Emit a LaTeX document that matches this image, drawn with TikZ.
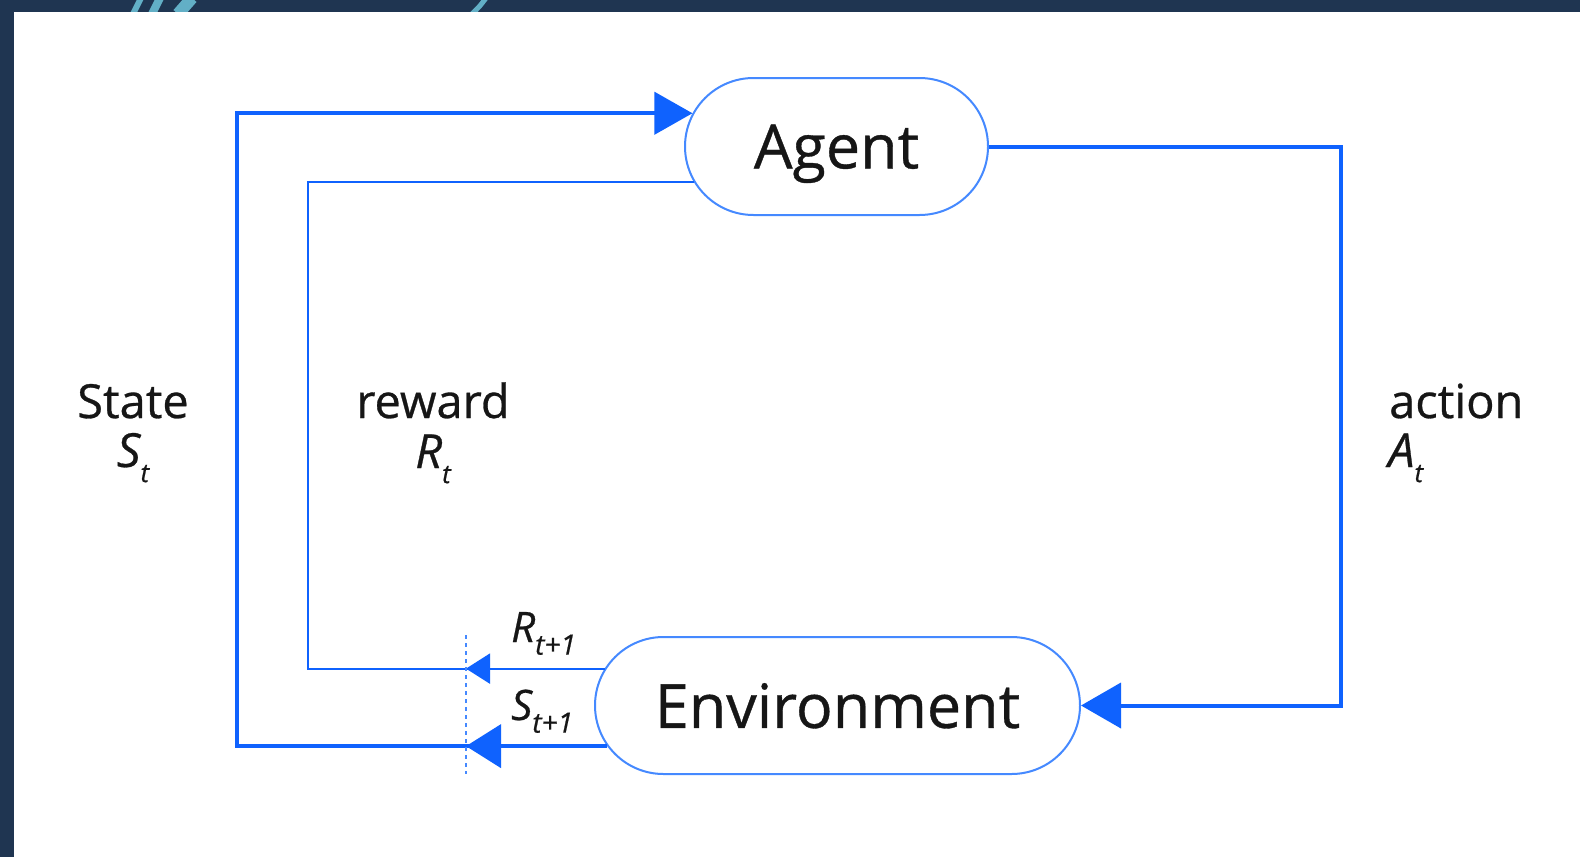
\documentclass[tikz,border=0pt]{standalone}
\usepackage{fontspec}
\setmainfont{Open Sans}[FakeBold=0.6]
\usetikzlibrary{shapes,shapes.misc,arrows.meta}
\definecolor{ibmblue}{HTML}{0F62FE}
\definecolor{boxblue}{HTML}{4589FF}
\definecolor{inkgray}{HTML}{161616}
\definecolor{navy}{HTML}{1F3551}
\definecolor{glow}{HTML}{62AFC6}

\begin{document}
\begin{tikzpicture}[x=1pt, y=-1pt,
      every node/.append style={text=inkgray, inner sep=0pt},
      box/.style={rounded rectangle, draw=boxblue, line width=2pt, fill=white,
        minimum height=137pt, text depth=0pt, font=\fontsize{61}{70}\selectfont}]
    \tikzstyle{mainline} = [draw=ibmblue, line width=4pt]
    \tikzstyle{thinline} = [draw=ibmblue, line width=2pt]
    \tikzstyle{sidetext} = [anchor=base, font=\fontsize{47}{56}\selectfont]
    \tikzstyle{steptext} = [anchor=base west, font=\fontsize{42}{50}\selectfont\itshape]
    % backdrop
    \fill[navy] (0,0) rectangle (1580,857);
    \begin{scope}
      \clip (0,0) rectangle (1580,12);
      \draw[glow, line width=6pt] (133,14) -- (141,-2);
      \draw[glow, line width=8pt] (152,14) -- (160,-2);
      \draw[glow, line width=12pt] (178,14) -- (192,-2);
      \draw[glow, line width=5pt] (472,14) .. controls (480,6) .. (486,-2);
    \end{scope}
    \fill[white] (14,12) rectangle (1580,857);
    % the two boxes
    \node (agent) [box, minimum width=303pt] at (836.5,146.5) {Agent};
    \node (environment) [box, minimum width=485pt] at (837.5,705.5) {Environment};
    \coordinate (dash_top) at (466,635);
    \coordinate (dash_bottom) at (466,774);
    \coordinate (state_x) at (237,0);
    \coordinate (reward_x) at (308,0);
    \coordinate (action_x) at (1341,0);
    % state loop
    \draw[mainline, -{Triangle[length=38pt,width=42pt]}] (environment.190) -- (environment.190 -| state_x)
      -- (state_x |- agent.167) -- (agent.167);
    \draw[mainline, -{Triangle[length=35pt,width=43pt]}] (environment.190) -- (environment.190 -| dash_top);
    % reward loop
    \draw[thinline] (environment.171) -- (environment.171 -| reward_x)
      -- (reward_x |- agent.194) -- (agent.194);
    \draw[thinline, -{Triangle[length=24pt,width=30pt]}] (environment.171) -- (environment.171 -| dash_top);
    % action
    \draw[mainline, -{Triangle[length=40pt,width=45pt]}] (agent.east) -- (agent.east -| action_x)
      -- (action_x |- environment.east) -- (environment.east);
    \draw[boxblue, line width=1.5pt, dash pattern=on 4pt off 4pt] (dash_top) -- (dash_bottom);
    % labels
    \node (state) [sidetext] at (133,418) {State};
    \node (state_sym) [sidetext] at (133,467) {\itshape S\raisebox{-0.32em}{\fontsize{26}{26}\selectfont t}};
    \node (reward) [sidetext] at (433,418) {reward};
    \node (reward_sym) [sidetext] at (433,468) {\itshape R\raisebox{-0.32em}{\fontsize{26}{26}\selectfont t}};
    \node (action) [sidetext, anchor=base west] at (1389,418) {action};
    \node (action_sym) [sidetext, anchor=base west] at (1388,467) {\itshape A\raisebox{-0.32em}{\fontsize{26}{26}\selectfont t}};
    \node (reward_next) [steptext] at (511,642) {R\raisebox{-0.3em}{\fontsize{28}{28}\selectfont t+1}};
    \node (state_next) [steptext] at (511,720) {S\raisebox{-0.3em}{\fontsize{28}{28}\selectfont t+1}};
\end{tikzpicture}
\end{document}
